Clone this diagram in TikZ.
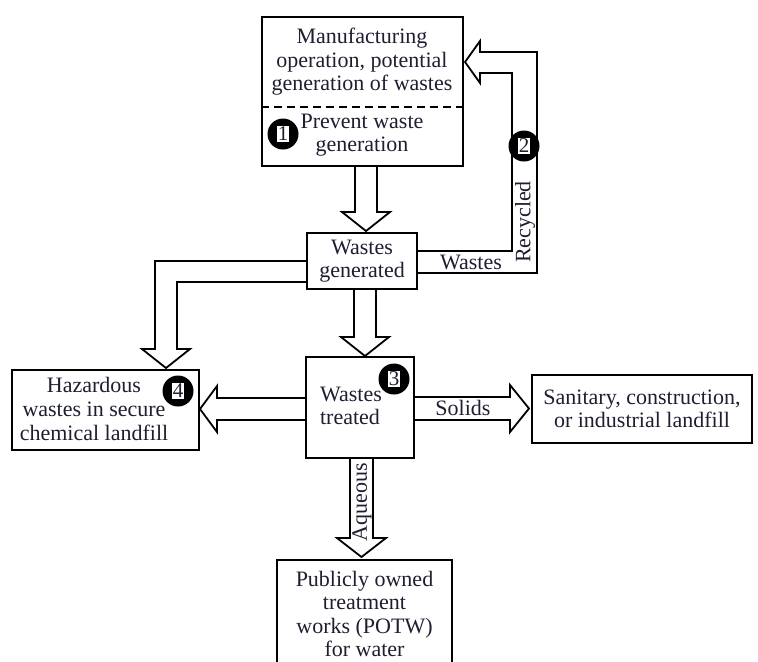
\documentclass[tikz,border=0pt]{standalone}
\usepackage{fontspec}
\setmainfont{Liberation Serif}
\usetikzlibrary{calc}
\definecolor{inkblue}{RGB}{30,30,48}
\setlength{\fboxsep}{0.6pt}

\begin{document}
\begin{tikzpicture}[x=0.5pt, y=-0.5pt,
  every node/.style={font=\fontsize{11}{11.8}\selectfont, text=inkblue},
  box/.style={draw, line width=0.9pt, align=center, inner sep=0pt},
  block/.style={draw, line width=0.9pt, line join=miter},
  num/.style={circle, fill=black, minimum size=15.5pt, inner sep=0pt, font=\fontsize{10.5}{11}\selectfont}]
  \clip (0,0) rectangle (758,661);
  % boxes
  \node[box, minimum width=100.5pt, minimum height=74.5pt] (mfg) at (362.5,91.5) {};
  \node[align=center] (mfgtext) at (362,62) {Manufacturing\\operation, potential\\generation of wastes};
  \draw[line width=0.8pt, dash pattern=on 4pt off 2.5pt] (mfg.west |- 0,107) -- (mfg.east |- 0,107);
  \node[align=center] (prevent) at (362,135) {Prevent waste\\generation};
  \node[box, minimum width=55pt, minimum height=28pt] (gen) at (362,261) {Wastes\\generated};
  \node[box, minimum width=54pt, minimum height=50.5pt] (treat) at (360,407.5) {};
  \node[align=left, anchor=west] (treattext) at (313,406) {Wastes\\treated};
  \node[box, minimum width=93.5pt, minimum height=40pt] (haz) at (105.5,410) {};
  \node[align=center] (haztext) at (94,409) {Hazardous\\wastes in secure\\chemical landfill};
  \node[box, minimum width=110pt, minimum height=34pt] (land) at (642,409) {Sanitary, construction,\\or industrial landfill};
  \node[box, minimum width=87.5pt, minimum height=60pt] (potw) at (364.5,620) {};
  \node[align=center] (potwtext) at (364.5,614) {Publicly owned\\treatment\\works (POTW)\\for water};

  % hollow arrows
  \draw[block] (355,0 |- mfg.south) -- (355,212) -- (342,212) -- (366,231) -- (390,212) -- (377,212) -- (377,0 |- mfg.south);
  \draw[block] (354,0 |- gen.south) -- (354,337) -- (341,337) -- (365,356) -- (389,337) -- (376,337) -- (376,0 |- gen.south);
  \draw[block] (gen.west |- 0,261) -- (155,261) -- (155,349) -- (142,349) -- (166,368) -- (190,349) -- (177,349) -- (177,282) -- (gen.west |- 0,282);
  \draw[block] (gen.east |- 0,251) -- (512,251) -- (512,73) -- (480,73) -- (480,83) -- (465,62) -- (480,41) -- (480,52) -- (537,52) -- (537,273) -- (gen.east |- 0,273);
  \draw[block] (treat.west |- 0,398) -- (217,398) -- (217,386) -- (200,409) -- (217,432) -- (217,420) -- (treat.west |- 0,420);
  \draw[block] (treat.east |- 0,397) -- (510,397) -- (510,385) -- (529,408.5) -- (510,432) -- (510,420) -- (treat.east |- 0,420);
  \draw[block] (350,0 |- treat.south) -- (350,538) -- (337,538) -- (361.5,557) -- (386,538) -- (373,538) -- (373,0 |- treat.south);

  % arrow labels
  \node[rotate=90] (recycled) at (525,222) {Recycled};
  \node (wasteslab) at (471,262) {Wastes};
  \node (solids) at (463,408) {Solids};
  \node[rotate=90] (aqueous) at (362,502) {Aqueous};

  % step numbers
  \node[num] (n1) at (283,134) {\colorbox{white}{1}};
  \node[num] (n2) at (524,146) {\colorbox{white}{2}};
  \node[num] (n3) at (394,379) {\colorbox{white}{3}};
  \node[num] (n4) at (178,391) {\colorbox{white}{4}};
\end{tikzpicture}
\end{document}
